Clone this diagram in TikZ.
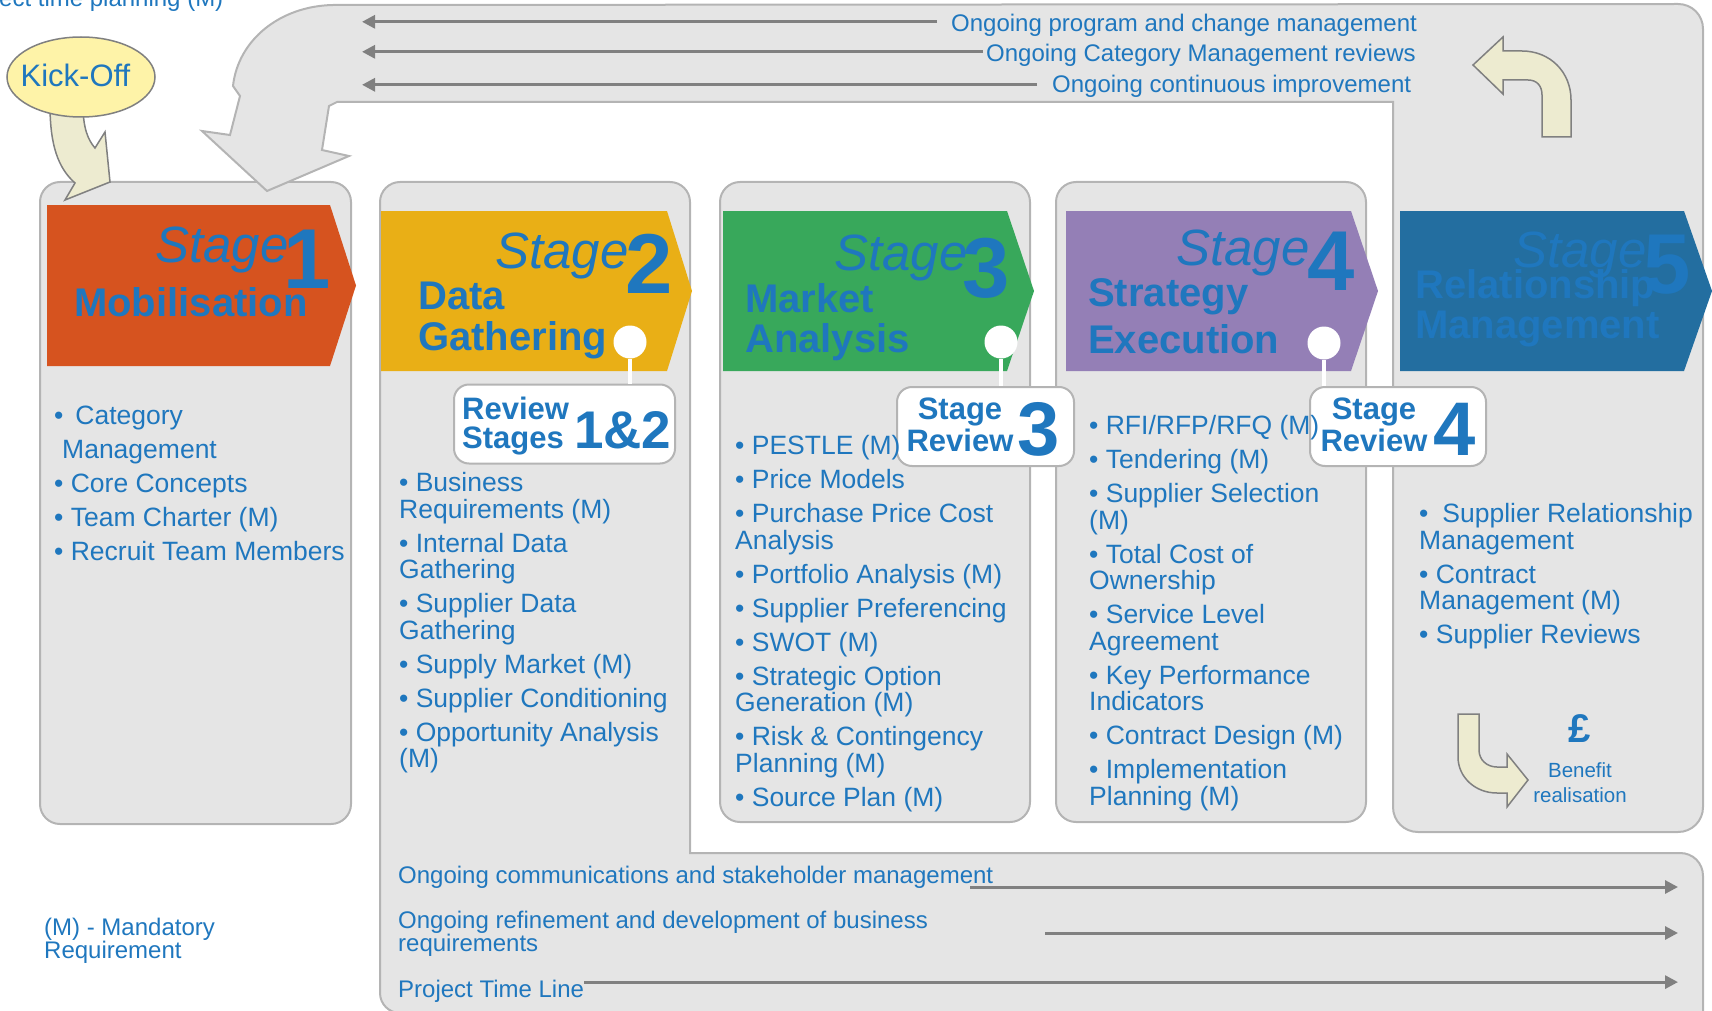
\documentclass[tikz,border=0pt]{standalone}
\usepackage{fontspec}
\setmainfont{Liberation Sans}
\usetikzlibrary{arrows.meta,shapes.geometric,positioning}

\definecolor{txtblue}{HTML}{1F77BE}
\definecolor{panelgray}{HTML}{E5E5E5}
\definecolor{panelline}{HTML}{B4B4B4}
\definecolor{beige}{HTML}{EDEBD0}
\definecolor{kickyellow}{HTML}{FEF3A8}
\definecolor{arrowgray}{HTML}{808080}
\definecolor{stageone}{HTML}{D6531F}
\definecolor{stagetwo}{HTML}{E9AF16}
\definecolor{stagethree}{HTML}{38A85B}
\definecolor{stagefour}{HTML}{947FB6}
\definecolor{stagefive}{HTML}{236EA0}

\newcommand{\setfs}[2]{\fontsize{#1}{#2}\selectfont}
% colour, left, right, tip, top, bottom
\newcommand{\stagechevron}[6]{\fill[#1] (#2,#5) -- (#3,#5) -- (#4,{(#5+#6)/2}) -- (#3,#6) -- (#2,#6) -- cycle;}

\begin{document}
\begin{tikzpicture}[x=1pt,y=-1pt,
  panel/.style={fill=panelgray,draw=panelline,line width=2pt},
  bent/.style={fill=beige,draw=arrowgray,line width=1.5pt},
  txt/.style={text=txtblue,inner sep=0pt},
  bandtxt/.style={txt,anchor=base west,font=\setfs{24}{23.5}},
  bandarrow/.style={draw=arrowgray,line width=3pt,-{Triangle[length=13pt,width=13pt]}},
  listtxt/.style={txt,anchor=north west,align=left,font=\setfs{26.5}{26.5}},
  stagetxt/.style={txt,anchor=base west,font=\setfs{51}{51}\itshape},
  stagenum/.style={txt,anchor=base west,font=\setfs{85}{85}\bfseries},
  titletxt/.style={txt,anchor=north west,align=left,font=\setfs{40}{40}\bfseries},
  reviewpin/.style={circle,fill=white,minimum size=33pt,inner sep=0pt},
  pinline/.style={white,line width=4.5pt},
  revbox/.style={draw=panelline,fill=white,line width=2pt,rounded corners=15pt,
    minimum width=#1,minimum height=79pt,inner sep=0pt},
  revtxt/.style={txt,font=\setfs{31}{29}\bfseries},
  revnum/.style={txt,anchor=base west,font=\setfs{#1}{#1}\bfseries}]

\useasboundingbox (0,0) rectangle (1712,1011);

% stage panels
\draw[panel,rounded corners=20pt] (40,182) rectangle (351,824);
\draw[panel,rounded corners=20pt] (720,182) rectangle (1030,822);
\draw[panel,rounded corners=20pt] (1056,182) rectangle (1366,822);
% panel 2 running into the bottom band
\draw[panel] (380,202) .. controls (380,191) and (389,182) .. (400,182) -- (670,182)
  .. controls (681,182) and (690,191) .. (690,202) -- (690,853) -- (1680,853)
  .. controls (1693,853) and (1703,863) .. (1703,876) -- (1703,1013) -- (400,1013)
  .. controls (389,1013) and (380,1004) .. (380,993) -- cycle;

% top band, feedback arrow and stage 5 panel
\draw[panel] (333,5) .. controls (280,6) and (238,40) .. (233,86) -- (240,96) -- (230,135)
  -- (202,131) -- (267,191) -- (349,156) -- (322,150) -- (329,106) -- (337,102)
  -- (1393,102) -- (1393,807) .. controls (1393,821) and (1404,832) .. (1418,832)
  -- (1678,832) .. controls (1692,832) and (1703,821) .. (1703,807) -- (1703,29)
  .. controls (1703,15) and (1692,4) .. (1678,4) -- cycle;

% kick-off
\draw[bent] (50,105) .. controls (50,145) and (58,168) .. (75,183) -- (65,200) -- (110,182)
  -- (105,132) -- (95,148) .. controls (88,140) and (83,128) .. (83,105) -- cycle;
\node[ellipse,draw=arrowgray,fill=kickyellow,line width=1.5pt,minimum width=148pt,
  minimum height=80pt,inner sep=0pt] (kickoff) at (81,77) {};
\node[txt,font=\setfs{31}{31}] (kickofftxt) at (75.5,75) {Kick-Off};

% loop-back arrow and benefit arrow
\draw[bent] (1473,65) -- (1503,37) -- (1503,51) -- (1522,51) .. controls (1550,51) and (1571,72) .. (1571,100)
  -- (1571,137) -- (1542,137) -- (1542,95) .. controls (1542,86) and (1537,80) .. (1528,80)
  -- (1503,80) -- (1503,94) -- cycle;
\draw[bent] (1458,714) -- (1479,714) -- (1479,750) .. controls (1479,760) and (1487,767) .. (1497,767)
  -- (1507,767) -- (1507,754) -- (1528,780) -- (1507,807) -- (1507,793) -- (1497,793)
  .. controls (1475,793) and (1458,777) .. (1458,757) -- cycle;

% stage chevrons
\stagechevron{stageone}{47}{330}{356}{205}{366}
\stagechevron{stagetwo}{381}{667}{692}{211}{371}
\stagechevron{stagethree}{723}{1007}{1034}{211}{371}
\stagechevron{stagefour}{1066}{1351}{1378}{211}{371}
\stagechevron{stagefive}{1400}{1684}{1712}{211}{371}

\node[stagetxt] (s1stage) at (155,262) {Stage};
\node[stagenum] (s1num) at (283,288) {1};
\node[txt,anchor=base west,font=\setfs{40}{40}\bfseries] (s1title) at (74,316) {Mobilisation};

\node[stagetxt] (s2stage) at (495,268) {Stage};
\node[stagenum] (s2num) at (625,293) {2};
\node[titletxt,font=\setfs{40}{41}\bfseries] (s2title) at (418,282) {Data\\Gathering};

\node[stagetxt] (s3stage) at (834,270) {Stage};
\node[stagenum] (s3num) at (962,297) {3};
\node[titletxt] (s3title) at (745,283) {Market\\Analysis};

\node[stagetxt] (s4stage) at (1176,265) {Stage};
\node[stagenum] (s4num) at (1307,290) {4};
\node[titletxt,font=\setfs{40}{47}\bfseries] (s4title) at (1088,278.5) {Strategy\\Execution};

\node[stagetxt] (s5stage) at (1513,267) {Stage};
\node[stagenum] (s5num) at (1643,293) {5};
\node[titletxt] (s5title) at (1415,269) {Relationship\\Management};

% review gates
\node[reviewpin] (pin12) at (630,342) {};
\node[reviewpin] (pin3) at (1001,342) {};
\node[reviewpin] (pin4) at (1324,343) {};
\node[revbox=221pt] (rev12) at (564.5,424) {};
\node[revbox=177pt] (rev3) at (985.5,426.5) {};
\node[revbox=176pt] (rev4) at (1398,426.5) {};
\draw[pinline] (pin12) -- (pin12 |- rev12.north);
\draw[pinline] (pin3) -- (pin3 |- rev3.north);
\draw[pinline] (pin4) -- (pin4 |- rev4.north);

\node[revtxt,anchor=north west,align=left] (rev12txt) at (462,396.5) {Review\\Stages};
\node[revnum=53] (rev12num) at (574,448) {1\&2};
\node[revtxt,anchor=north,align=center,font=\setfs{31}{32}\bfseries] (rev3txt) at (960,397.5) {Stage\\Review};
\node[revnum=76] (rev3num) at (1017,455) {3};
\node[revtxt,anchor=north,align=center,font=\setfs{31}{32}\bfseries] (rev4txt) at (1374,397.5) {Stage\\Review};
\node[revnum=76] (rev4num) at (1433,455) {4};

% activity lists
\node[listtxt] (list1) at (54,405.5) {•\hspace{12pt}Category\\[7.5pt]
  \hspace*{8pt}Management\\[7.5pt]• Core Concepts\\[7.5pt]• Team Charter (M)\\[7.5pt]
  • Recruit Team Members};
\node[listtxt] (list2) at (399,472.5) {• Business\\Requirements (M)\\[7.5pt]
  • Internal Data\\Gathering\\[7.5pt]• Supplier Data\\Gathering\\[7.5pt]
  • Supply Market (M)\\[7.5pt]• Supplier Conditioning\\[7.5pt]
  • Opportunity Analysis\\(M)};
\node[listtxt] (list3) at (735,435.5) {• PESTLE (M)\\[7.5pt]• Price Models\\[7.5pt]
  • Purchase Price Cost\\Analysis\\[7.5pt]• Portfolio Analysis (M)\\[7.5pt]
  • Supplier Preferencing\\[7.5pt]• SWOT (M)\\[7.5pt]
  • Strategic Option\\Generation (M)\\[7.5pt]• Risk \& Contingency\\Planning (M)\\[7.5pt]
  • Source Plan (M)};
\node[listtxt] (list4) at (1089,415.5) {• RFI/RFP/RFQ (M)\\[7.5pt]• Tendering (M)\\[7.5pt]
  • Supplier Selection\\(M)\\[7.5pt]• Total Cost of\\Ownership\\[7.5pt]
  • Service Level\\Agreement\\[7.5pt]• Key Performance\\Indicators\\[7.5pt]
  • Contract Design (M)\\[7.5pt]• Implementation\\Planning (M)};
\node[listtxt] (list5) at (1419,503.5) {•\hspace{14pt}Supplier Relationship\\Management\\[7.5pt]
  • Contract\\Management (M)\\[7.5pt]• Supplier Reviews};

% benefit
\node[txt,font=\setfs{40}{40}\bfseries] (pound) at (1580,729) {£};
\node[txt,anchor=north,align=center,font=\setfs{20.5}{25}] (benefit) at (1580,762) {Benefit\\realisation};

% ongoing activities, top band
\coordinate (bandstart) at (362,0);
\node[bandtxt] (ong1) at (951,32) {Ongoing program and change management};
\node[bandtxt] (ong2) at (986,62) {Ongoing Category Management reviews};
\node[bandtxt] (ong3) at (1052,93) {Ongoing continuous improvement};
\draw[bandarrow,shorten <=14pt] ([yshift=4pt]ong1.west) -- ([yshift=4pt]ong1.west -| bandstart);
\draw[bandarrow,shorten <=3pt] ([yshift=4pt]ong2.west) -- ([yshift=4pt]ong2.west -| bandstart);
\draw[bandarrow,shorten <=15pt] ([yshift=2pt]ong3.west) -- ([yshift=2pt]ong3.west -| bandstart);

% ongoing activities, bottom band
\coordinate (bandend) at (1678,0);
\coordinate (commsstart) at (970,887);
\coordinate (refinestart) at (1045,933);
\node[bandtxt] (comms) at (398,883) {Ongoing communications and stakeholder management};
\node[bandtxt,anchor=north west,align=left] (refine) at (398,910.5) {Ongoing refinement and development of business\\requirements};
\node[bandtxt] (timeline) at (398,997) {Project Time Line};
\draw[bandarrow] (commsstart) -- (commsstart -| bandend);
\draw[bandarrow] (refinestart) -- (refinestart -| bandend);
\draw[bandarrow] ([yshift=8.7pt]timeline.east) -- ([yshift=8.7pt]timeline.east -| bandend);

\node[bandtxt,anchor=north west,align=left] (mandatory) at (44,917.5) {(M) - Mandatory\\Requirement};
\node[bandtxt] (planning) at (-1,6.5) {ect time planning (M)};

\end{tikzpicture}
\end{document}
